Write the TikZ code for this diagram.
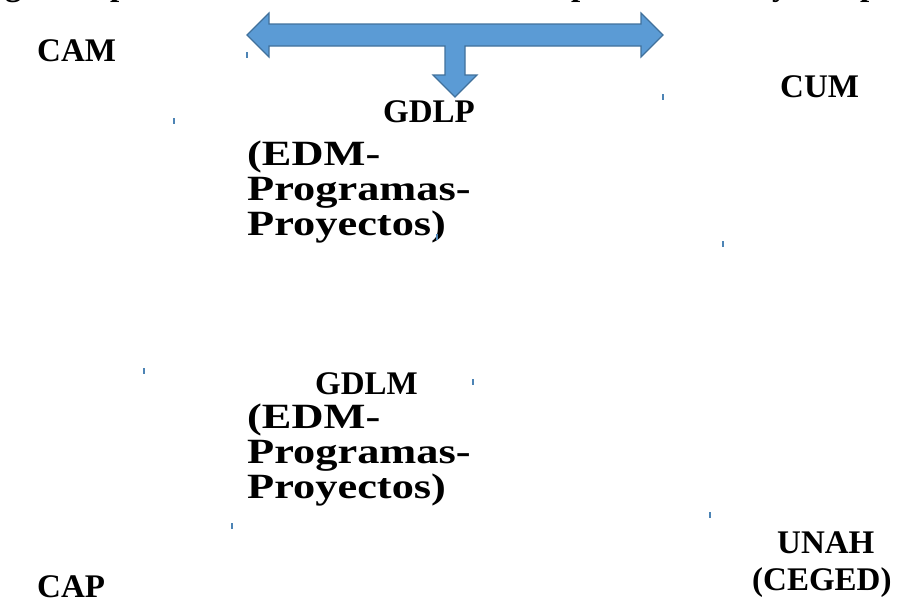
\documentclass[tikz,border=0pt]{standalone}
\usepackage{graphicx}
\usepackage{fontspec}
\setmainfont{Liberation Serif}
\definecolor{arrowblue}{HTML}{5B9BD5}
\definecolor{arrowedge}{HTML}{41719C}
\newcommand{\wideblock}[1]{\scalebox{1.25}[1]{\begin{tabular}[b]{@{}l@{}}#1\end{tabular}}}
\begin{document}
\begin{tikzpicture}[x=1pt,y=-1pt,
  lbl/.style={font=\fontsize{33}{33}\selectfont\bfseries, inner sep=0pt, anchor=base west},
  blockl/.style={font=\fontsize{35.5}{34.5}\selectfont\bfseries, inner sep=0pt, anchor=base west},
  frag/.style={font=\fontsize{33}{33}\selectfont\bfseries, inner sep=0pt, anchor=base west},
  tickmark/.style={fill=arrowblue!85!black},
  blockarrow/.style={fill=arrowblue, draw=arrowedge, line width=1.2pt, line join=miter}]
\useasboundingbox (0,0) rectangle (903,598);
\clip (0,0) rectangle (903,598);
% cut-off fragments of the line above
\node[frag] (f1) at (5,-5) {g};
\node[frag] (f2) at (110,-5) {p};
\node[frag] (f3) at (571,-5) {p};
\node[frag] (f4) at (772,-5) {y};
\node[frag] (f5) at (860,-5) {p};
% block arrow
\draw[blockarrow] (247,35) -- (269,13) -- (269,24) -- (641,24) -- (641,13) -- (663,35)
  -- (641,57) -- (641,46) -- (465,46) -- (465,75) -- (477,75) -- (455,97) -- (433,75)
  -- (445,75) -- (445,46) -- (269,46) -- (269,57) -- cycle;
% labels
\node[lbl] (cam) at (37,61) {CAM};
\node[lbl] (cum) at (780,97) {CUM};
\node[lbl] (gdlp) at (383,122) {GDLP};
\node[blockl] (edm1) at (247,235) {\wideblock{(EDM-\\Programas-\\Proyectos)}};
\node[lbl] (gdlm) at (315,394) {GDLM};
\node[blockl] (edm2) at (247,498) {\wideblock{(EDM-\\Programas-\\Proyectos)}};
\node[lbl] (unah) at (777,553) {UNAH};
\node[lbl] (ceged) at (752,590) {(CEGED)};
\node[lbl] (cap) at (37,597) {CAP};
% small stray marks
\foreach \x/\y in {247/55, 174/121, 663/97, 723/244, 144/371, 473/382, 232/526, 710/515, 437/237}
  \fill[tickmark] (\x-1,\y-3) rectangle (\x+1,\y+3);
\end{tikzpicture}
\end{document}
